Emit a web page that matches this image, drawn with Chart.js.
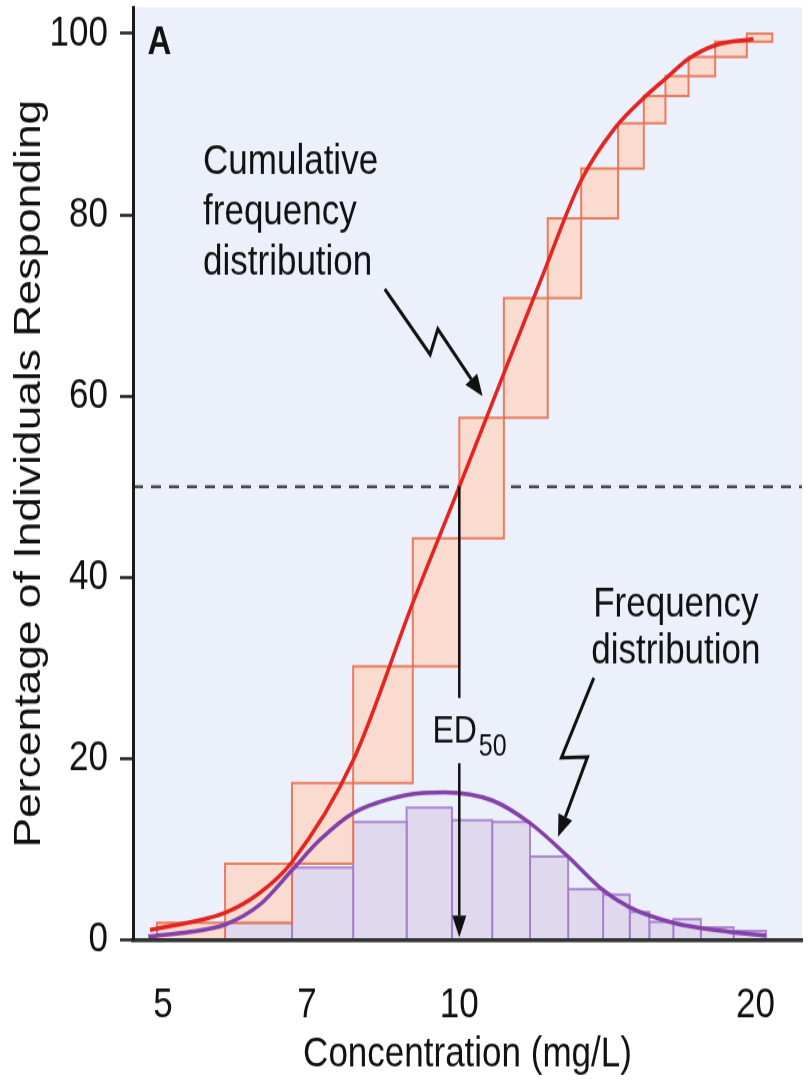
<!DOCTYPE html>
<html>
<head>
<meta charset="utf-8">
<script src="https://cdn.jsdelivr.net/npm/chart.js@4.4.1/dist/chart.umd.min.js"></script>
<style>
  html, body { margin: 0; padding: 0; background: #fff; width: 808px; height: 1088px; overflow: hidden; }
  #page { width: 808px; height: 1088px; position: relative; overflow: hidden; }
  /* the source figure is stretched vertically, so draw on a shorter canvas and stretch it */
  #wrap { position: absolute; left: 0; top: 0; width: 808px; height: 907px; transform: scaleY(1.19956); transform-origin: 0 0; }
</style>
</head>
<body>
<div id="page"><div id="wrap"><canvas id="chart"></canvas></div></div>
<script>
// --- cumulative frequency boxes: bin edges (mg/L) and % reached at top of each box ---
const cumEdges  = [4.93, 5.78, 6.76, 7.80, 8.97, 10.0, 11.1, 12.3, 13.3, 14.5, 15.4, 16.2, 17.1, 18.2, 19.6, 20.8];
const cumLevels = [1.9, 8.4, 17.3, 30.2, 44.3, 57.6, 70.8, 79.6, 85.1, 90.1, 93.1, 95.3, 97.4, 99.1, 100];

// --- frequency histogram: bin edges (mg/L) and % in each bin ---
const freqEdges   = [5.78, 6.76, 7.80, 8.84, 9.83, 10.8, 11.8, 12.9, 14.0, 14.9, 15.6, 16.5, 17.6, 19.0, 20.5];
const freqHeights = [1.9, 8.0, 13.0, 14.6, 13.2, 13.0, 9.2, 5.6, 5.0, 3.1, 2.0, 2.3, 1.4, 1.0];

// --- smooth curves ---
const cumCurveX  = [4.85, 5.78, 6.27, 6.76, 7.80, 8.97, 10.0, 11.2, 12.1, 13.3, 14.4, 15.4, 16.2, 17.1, 18.2, 19.9];
const cumCurveY  = [1.1, 3.0, 5.2, 8.6, 19.8, 37.2, 50.0, 63.6, 72.8, 83.8, 89.6, 92.9, 95.0, 97.2, 98.7, 99.4];
const freqCurveX = [4.83, 5.33, 5.78, 6.27, 6.76, 7.21, 7.80, 8.84, 9.66, 10.8, 11.8, 12.9, 14.0, 14.9, 16.5, 18.8, 20.5];
const freqCurveY = [0.4, 0.9, 1.7, 3.9, 7.7, 11.0, 14.0, 16.0, 16.3, 15.4, 12.9, 9.2, 5.5, 3.6, 1.9, 0.9, 0.5];

// --- axes ---
const xTicks = [5, 7, 10, 20];
const yTicks = [0, 20, 40, 60, 80, 100];
const X_MIN = 4.66, X_MAX = 22.3, Y_MAX = 102.9;
const ED50 = 10;

// --- annotation anchors, in data units ---
const cumNoteLines  = ['Cumulative', 'frequency', 'distribution'];
const cumNoteX      = 5.49;
const cumNoteY      = [85.8, 80.2, 74.7];
const freqNoteLines = ['Frequency', 'distribution'];
const freqNoteX     = 16.6;
const freqNoteY     = [36.9, 31.8];
const cumArrowX  = [8.40, 9.34, 9.51, 10.56];
const cumArrowY  = [71.8, 64.6, 67.4, 60.0];
const freqArrowX = [13.7, 12.7, 13.5, 12.6];
const freqArrowY = [28.9, 20.1, 20.2, 11.4];

const FONT = '"Liberation Sans", Arial, Helvetica, sans-serif';
Chart.defaults.font.family = FONT;
Chart.defaults.color = '#111';

const BG = '#ebf0fa';

function boxDataset(x0, x1, y0, y1, fill, line, order) {
    return {
        type: 'line',
        data: [{x: x0, y: y0}, {x: x0, y: y1}, {x: x1, y: y1}, {x: x1, y: y0}, {x: x0, y: y0}],
        fill: 'shape',
        backgroundColor: fill,
        borderColor: line,
        borderWidth: 2,
        pointRadius: 0,
        tension: 0,
        order
    };
}

const datasets = [];

// red cumulative curve on top
datasets.push({
    type: 'line',
    data: cumCurveX.map((x, i) => ({x, y: cumCurveY[i]})),
    borderColor: '#e42420',
    borderWidth: 3.5,
    pointRadius: 0,
    cubicInterpolationMode: 'monotone',
    fill: false,
    order: 0
});
datasets.push({
    type: 'line',
    data: freqCurveX.map((x, i) => ({x, y: freqCurveY[i]})),
    borderColor: '#8341aa',
    borderWidth: 3.5,
    pointRadius: 0,
    cubicInterpolationMode: 'monotone',
    fill: false,
    order: 1
});
cumLevels.forEach((lvl, i) => {
    datasets.push(boxDataset(cumEdges[i], cumEdges[i + 1], i ? cumLevels[i - 1] : 0, lvl,
        '#f9dccf', 'rgba(234, 104, 70, 0.85)', 2));
});
freqHeights.forEach((h, i) => {
    datasets.push(boxDataset(freqEdges[i], freqEdges[i + 1], 0, h,
        '#e0d8ec', 'rgba(160, 120, 200, 0.85)', 3));
});
// 50% dashed reference line
datasets.push({
    type: 'line',
    data: [{x: X_MIN, y: 50}, {x: X_MAX, y: 50}],
    borderColor: '#4a4a4a',
    borderWidth: 2.5,
    borderDash: [10, 8],
    pointRadius: 0,
    fill: false,
    order: 5
});

const areaBg = {
    id: 'areaBg',
    beforeDraw(chart) {
        const {ctx, chartArea: a} = chart;
        ctx.save();
        ctx.fillStyle = BG;
        ctx.fillRect(a.left, a.top, a.right - a.left, a.bottom - a.top);
        ctx.restore();
    }
};

function drawArrow(ctx, pts, width, headLen, headHalf) {
    const n = pts.length;
    const q = pts[n - 1], p = pts[n - 2];
    const dx = q.x - p.x, dy = q.y - p.y;
    const d = Math.hypot(dx, dy);
    const ux = dx / d, uy = dy / d;
    const bx = q.x - ux * headLen, by = q.y - uy * headLen;
    ctx.lineWidth = width;
    ctx.lineJoin = 'miter';
    ctx.beginPath();
    ctx.moveTo(pts[0].x, pts[0].y);
    for (let i = 1; i < n - 1; i++) ctx.lineTo(pts[i].x, pts[i].y);
    ctx.lineTo(bx, by);
    ctx.stroke();
    ctx.beginPath();
    ctx.moveTo(q.x, q.y);
    ctx.lineTo(bx - uy * headHalf, by + ux * headHalf);
    ctx.lineTo(bx + uy * headHalf, by - ux * headHalf);
    ctx.closePath();
    ctx.fill();
}

const notes = {
    id: 'notes',
    afterDatasetsDraw(chart) {
        const {ctx, scales: {x, y}} = chart;
        const px = v => x.getPixelForValue(v);
        const py = v => y.getPixelForValue(v);
        ctx.save();
        ctx.fillStyle = '#111';
        ctx.strokeStyle = '#111';
        ctx.textBaseline = 'middle';

        ctx.font = 'bold 33px ' + FONT;
        ctx.textAlign = 'left';
        ctx.fillText('A', px(4.82), py(98.9));

        ctx.font = '35px ' + FONT;
        cumNoteLines.forEach((t, i) => ctx.fillText(t, px(cumNoteX), py(cumNoteY[i])));
        ctx.textAlign = 'center';
        freqNoteLines.forEach((t, i) => ctx.fillText(t, px(freqNoteX), py(freqNoteY[i])));

        // ED50 label
        ctx.textAlign = 'left';
        ctx.font = '32px ' + FONT;
        const edX = px(9.39);
        ctx.fillText('ED', edX, py(22.9));
        const edW = ctx.measureText('ED').width;
        ctx.font = '25px ' + FONT;
        ctx.fillText('50', edX + edW + 2, py(21.2));

        // ED50 drop line and arrow
        ctx.lineWidth = 2.5;
        ctx.beginPath();
        ctx.moveTo(px(ED50), py(50));
        ctx.lineTo(px(ED50), py(26.7));
        ctx.stroke();
        drawArrow(ctx, [{x: px(ED50), y: py(19.5)}, {x: px(ED50), y: py(0.3)}], 2.5, 18, 7);

        // zig-zag pointers
        drawArrow(ctx, cumArrowX.map((v, i) => ({x: px(v), y: py(cumArrowY[i])})), 3, 18, 7.5);
        drawArrow(ctx, freqArrowX.map((v, i) => ({x: px(v), y: py(freqArrowY[i])})), 3, 18, 7.5);
        ctx.restore();
    }
};

new Chart(document.getElementById('chart'), {
    data: { datasets },
    options: {
        responsive: true,
        maintainAspectRatio: false,
        animation: false,
        events: [],
        layout: { padding: { top: 6, right: 6, left: 0, bottom: 0 } },
        plugins: { legend: { display: false }, tooltip: { enabled: false } },
        scales: {
            x: {
                type: 'logarithmic',
                min: X_MIN,
                max: X_MAX,
                afterBuildTicks: s => { s.ticks = xTicks.map(v => ({value: v})); },
                afterFit: s => { s.height = 123.4; s.paddingLeft = 0; s.paddingRight = 0; },
                grid: { display: false, drawTicks: false },
                border: { display: true, color: '#333', width: 3.5, z: 1 },
                ticks: {
                    autoSkip: false, maxRotation: 0, padding: 34,
                    font: { size: 35 }, color: '#111',
                    callback: v => String(v)
                },
                title: {
                    display: true, text: 'Concentration (mg/L)',
                    font: { size: 35 }, color: '#111',
                    padding: { top: 0, bottom: 7 }
                }
            },
            y: {
                type: 'linear',
                min: 0,
                max: Y_MAX,
                afterBuildTicks: s => { s.ticks = yTicks.map(v => ({value: v})); },
                afterFit: s => { s.width = 133; s.paddingTop = 0; s.paddingBottom = 0; },
                grid: {
                    display: true, drawOnChartArea: false, drawTicks: true,
                    tickLength: 13, tickWidth: 2.5, tickColor: '#222'
                },
                border: { display: true, color: '#1a1a1a', width: 3, z: 1 },
                ticks: { padding: 12, font: { size: 35 }, color: '#111' },
                title: {
                    display: true, text: 'Percentage of Individuals Responding',
                    font: { size: 37 }, color: '#111',
                    padding: { top: 8, bottom: 0 }
                }
            }
        }
    },
    plugins: [areaBg, notes]
});
</script>
</body>
</html>
